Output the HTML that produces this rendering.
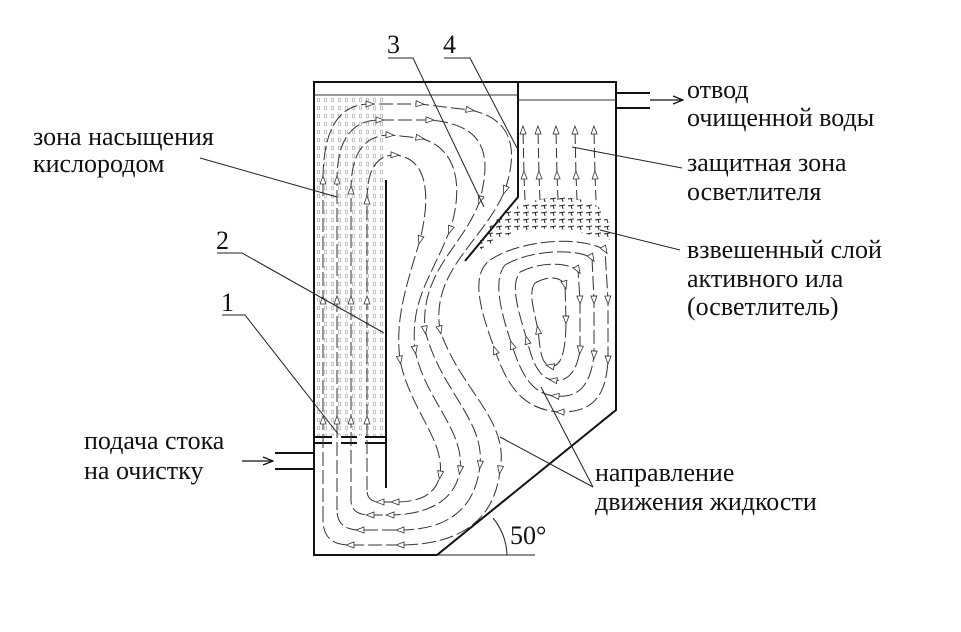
<!DOCTYPE html>
<html><head><meta charset="utf-8"><style>
html,body{margin:0;padding:0;background:#fff;}
svg{display:block;}
text{font-family:"Liberation Serif",serif;font-size:26px;fill:#111;}
</style></head><body>
<svg width="961" height="632" viewBox="0 0 961 632" xmlns="http://www.w3.org/2000/svg">
<defs>
<pattern id="dots" width="7" height="8" patternUnits="userSpaceOnUse">
<ellipse cx="3.5" cy="4" rx="1.3" ry="2" fill="none" stroke="#999" stroke-width="0.6"/>
</pattern>
<pattern id="hatch" width="9" height="7" patternUnits="userSpaceOnUse">
<path d="M1,3 L7,2 M4,2 L5,6" stroke="#222" stroke-width="1"/>
</pattern>
<marker id="ar" markerWidth="10" markerHeight="8" refX="5" refY="4" orient="auto" markerUnits="userSpaceOnUse">
<path d="M1,1 L9,4 L1,7 Z" fill="#fff" stroke="#333" stroke-width="0.8"/>
</marker>
<marker id="ah" markerWidth="12" markerHeight="10" refX="11" refY="5" orient="auto" markerUnits="userSpaceOnUse">
<path d="M1,1 L11,5 L1,9" fill="none" stroke="#111" stroke-width="1.3"/>
</marker>
</defs>

<rect x="315" y="96" width="70" height="340" fill="url(#dots)"/>

<g fill="none" stroke="#111" stroke-width="2">
<path d="M314,82 L616,82 L616,410 L437,555 L314,555 Z"/>
<path d="M518,82 L518,197 L465,261"/>
<line x1="386" y1="180" x2="386" y2="488"/>
<line x1="616" y1="93" x2="650" y2="93"/>
<line x1="616" y1="108" x2="650" y2="108"/>
<line x1="275" y1="453" x2="314" y2="453"/>
<line x1="275" y1="469" x2="314" y2="469"/>
<path d="M314,437 L332,437 M341,437 L357,437 M365,437 L386,437"/>
<path d="M314,443 L332,443 M341,443 L357,443 M365,443 L386,443"/>
</g>
<g stroke="#333" stroke-width="1" fill="none">
<line x1="314" y1="95" x2="518" y2="95"/>
<line x1="518" y1="100" x2="616" y2="100"/>
</g>

<path d="M480,240 C500,205 540,195 570,198 C600,200 612,215 610,240 C590,235 560,225 530,230 C510,233 495,240 480,250 Z" fill="url(#hatch)"/>

<g fill="none" stroke="#333" stroke-width="1" stroke-dasharray="14,4" marker-mid="url(#ar)">
<path d="M323,520 L323,420 L323,300 L323,180 Q323,104 370,104 L420,104 L470,110 C520,120 515,160 505,190 C485,240 430,270 440,330 C460,390 510,420 500,470 C495,520 460,545 400,545 L350,545 Q323,545 323,520"/>
<path d="M337,510 L337,420 L337,300 L337,180 Q337,120 380,120 L430,120 C490,125 490,160 480,200 C465,245 420,270 425,330 C440,390 485,420 480,465 C475,515 440,530 400,530 L360,530 Q337,530 337,510"/>
<path d="M351,500 L351,420 L351,300 L351,190 Q351,135 390,135 L420,138 C465,150 460,200 450,230 C430,280 410,300 415,350 C425,400 465,430 460,470 C455,505 420,515 390,515 L370,515 Q351,515 351,500"/>
<path d="M367,490 L367,420 L367,300 L367,200 Q367,155 395,155 C430,158 430,200 420,240 C405,290 395,320 400,360 C410,410 445,440 440,475 C435,500 410,502 395,502 L380,502 Q367,502 367,490"/>
<path d="M490,260 C520,240 580,235 605,250 L608,300 L608,360 C606,400 590,412 560,412 C520,410 505,380 495,350 C480,310 470,275 490,260"/>
<path d="M505,265 C530,250 575,248 592,258 L594,300 L594,355 C590,390 575,398 555,396 C530,394 520,370 512,345 C500,310 493,280 505,265"/>
<path d="M520,272 C540,262 565,262 578,270 L580,300 L580,350 C576,376 565,382 553,380 C538,378 532,360 527,340 C518,310 510,285 520,272"/>
<path d="M535,283 C548,276 560,276 565,285 L566,320 C566,355 560,368 550,366 C540,364 540,345 538,330 C534,310 528,292 535,283"/>
</g>
<g fill="none" stroke="#333" stroke-width="1" stroke-dasharray="10,4" marker-mid="url(#ar)" marker-end="url(#ar)">
<path d="M525,200 L524,175 L523,130"/>
<path d="M540,200 L539,175 L538,130"/>
<path d="M558,200 L557,175 L556,130"/>
<path d="M577,200 L576,175 L575,130"/>
<path d="M596,200 L595,175 L594,130"/>
</g>

<g stroke="#222" stroke-width="1" fill="none">
<line x1="200" y1="158" x2="337" y2="197"/>
<path d="M217,253 L242,253 L384,333"/>
<path d="M222,315 L245,315 L338,434"/>
<path d="M388,58 L413,58 L484,207"/>
<path d="M444,58 L470,58 L517,148"/>
<line x1="572" y1="147" x2="682" y2="168"/>
<line x1="600" y1="230" x2="680" y2="250"/>
<line x1="500" y1="437" x2="593" y2="487"/>
<line x1="541" y1="387" x2="593" y2="487"/>
<line x1="437" y1="555" x2="535" y2="555"/>
<path d="M493,518 A62,62 0 0,1 507,555"/>
</g>
<line x1="650" y1="100" x2="683" y2="100" stroke="#111" stroke-width="1.3" marker-end="url(#ah)"/>
<line x1="242" y1="461" x2="273" y2="461" stroke="#111" stroke-width="1.3" marker-end="url(#ah)"/>

<text x="387" y="53">3</text>
<text x="443" y="53">4</text>
<text x="216" y="249">2</text>
<text x="221" y="311">1</text>
<text x="33" y="145">зона насыщения</text>
<text x="33" y="172">кислородом</text>
<text x="687" y="98">отвод</text>
<text x="687" y="126">очищенной воды</text>
<text x="687" y="171">защитная зона</text>
<text x="687" y="200">осветлителя</text>
<text x="687" y="258">взвешенный слой</text>
<text x="687" y="287">активного ила</text>
<text x="687" y="315">(осветлитель)</text>
<text x="595" y="481">направление</text>
<text x="595" y="510">движения жидкости</text>
<text x="84" y="449">подача стока</text>
<text x="84" y="479">на очистку</text>
<text x="510" y="544">50°</text>
</svg>
</body></html>
